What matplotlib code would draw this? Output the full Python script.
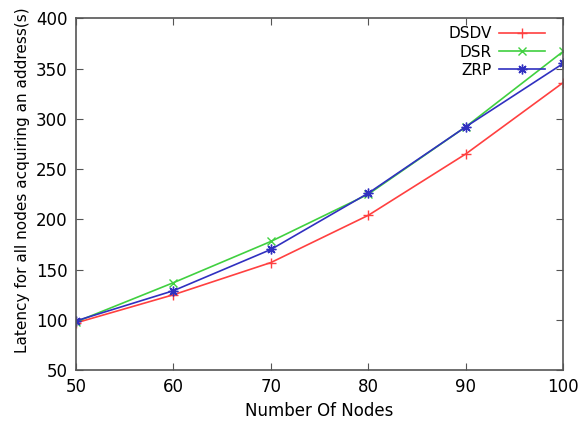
import matplotlib
matplotlib.use("Agg")
import matplotlib.pyplot as plt

nodes = [50, 60, 70, 80, 90, 100]
dsdv = [97, 125, 157, 204, 265, 336]
dsr = [98, 137, 178, 225, 292, 367]
zrp = [99, 129, 170, 226, 292, 355]

fig = plt.figure(figsize=(5.8, 4.24), dpi=100)
ax = fig.add_axes([0.131, 0.127, 0.84, 0.83])

ax.plot(nodes, dsdv, color="#ff4040", marker="+", markersize=7, lw=1.2, label="DSDV")
ax.plot(nodes, dsr, color="#40d040", marker="x", markersize=6, lw=1.2, label="DSR")
ax.plot(nodes, zrp, color="#3030c0", marker=(8, 2, 0), markersize=7, lw=1.2, label="ZRP")

ax.set_xlim(50, 100)
ax.set_ylim(50, 400)
ax.set_xticks(range(50, 101, 10))
ax.set_yticks(range(50, 401, 50))
ax.tick_params(direction="in", top=True, right=True, labelsize=12, length=5, color="#555555")
ax.tick_params(axis="x", pad=6)
ax.tick_params(axis="y", pad=6)
for s in ax.spines.values():
    s.set_color("#555555")
    s.set_linewidth(1.2)

ax.set_xlabel("Number Of Nodes", fontsize=12, labelpad=4)
ax.set_ylabel("Latency for all nodes acquiring an address(s)", fontsize=11)
ax.yaxis.set_label_coords(-0.095, 0.54)

ax.legend(loc="upper right", bbox_to_anchor=(0.975, 0.994), frameon=False,
          markerfirst=False, fontsize=11, handlelength=3.0, borderaxespad=0,
          labelspacing=0.2, handletextpad=0.5)

fig.savefig("out.png", dpi=100)
